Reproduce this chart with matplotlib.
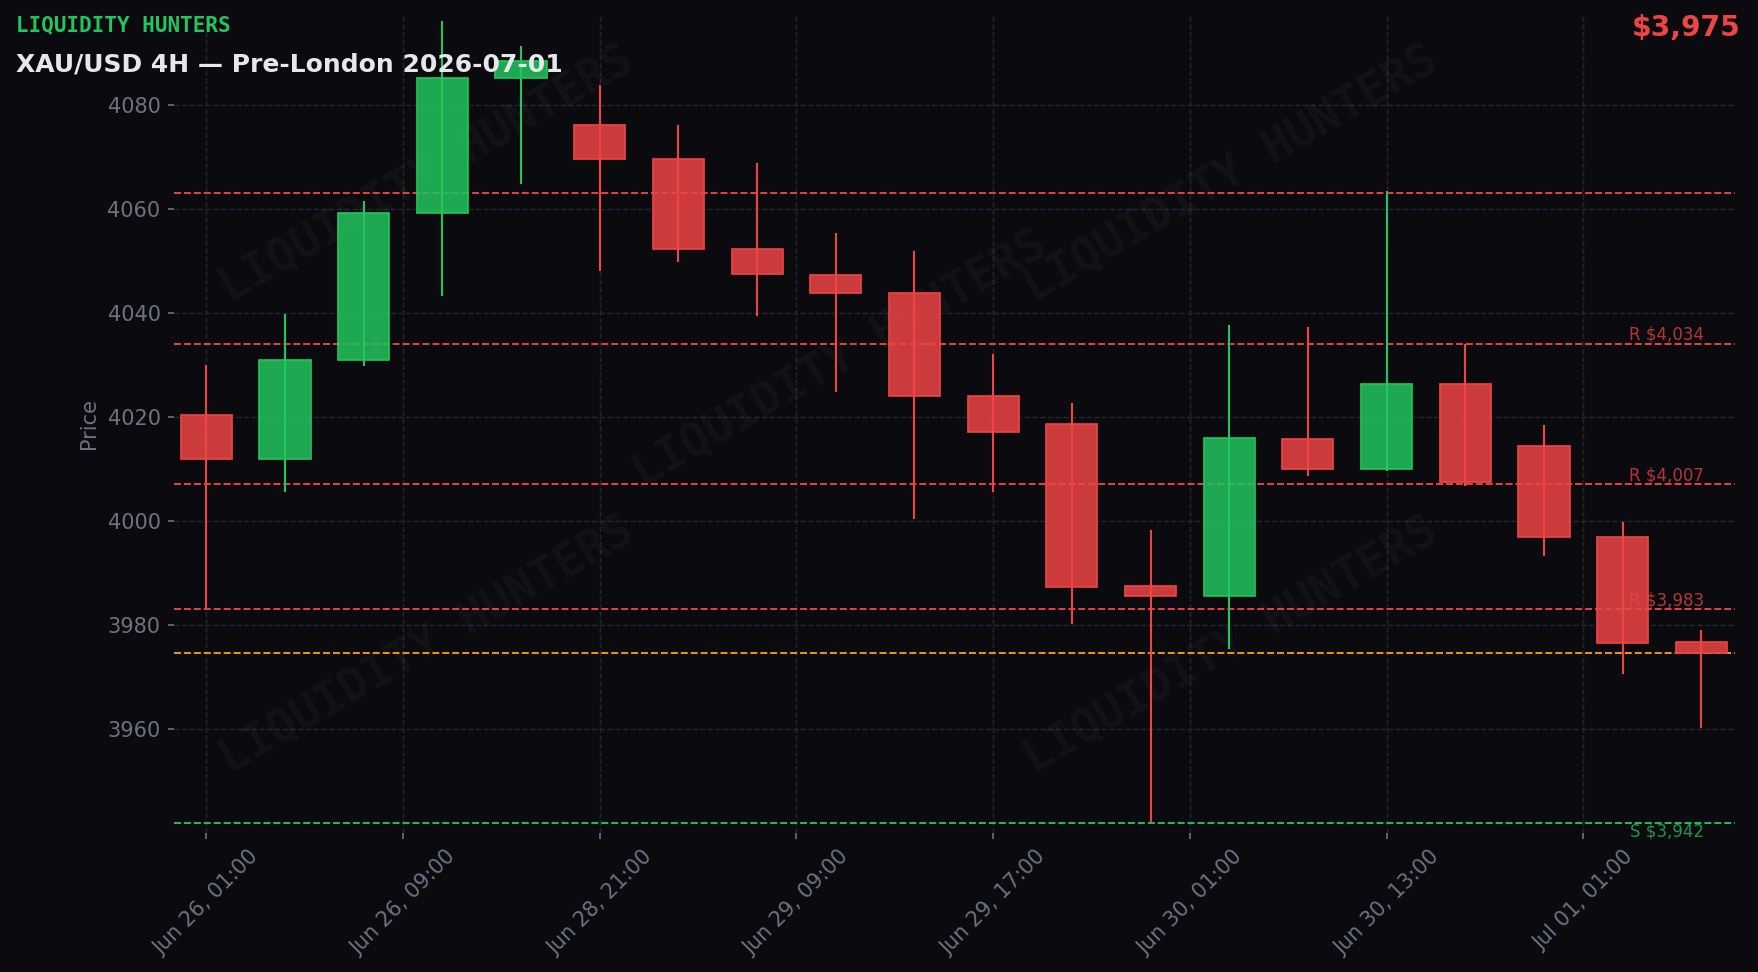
import matplotlib
matplotlib.use("Agg")
import matplotlib.pyplot as plt
from matplotlib.colors import to_rgba
import matplotlib.transforms as mtransforms
import numpy as np

# XAU/USD 4H candles
opens = [4020.4, 4011.8, 4031.0, 4059.1, 4085.2, 4076.0, 4069.6, 4052.3, 4047.2, 4043.7,
         4023.9, 4018.7, 3987.4, 3985.6, 4015.7, 4010.0, 4026.3, 4014.4, 3996.8, 3976.7]
closes = [4011.8, 4031.0, 4059.1, 4085.2, 4088.4, 4069.5, 4052.3, 4047.4, 4043.7, 4023.9,
          4017.0, 3987.3, 3985.6, 4015.9, 4010.0, 4026.3, 4007.5, 3996.8, 3976.6, 3974.6]
highs = [4029.9, 4039.8, 4061.5, 4096.0, 4091.2, 4083.7, 4076.0, 4068.8, 4055.4, 4051.9,
         4032.1, 4022.6, 3998.3, 4037.7, 4037.3, 4063.4, 4034.0, 4018.5, 3999.8, 3979.0]
lows = [3983.1, 4005.6, 4029.7, 4043.2, 4064.8, 4048.1, 4049.7, 4039.4, 4024.7, 4000.4,
        4005.5, 3980.1, 3942.1, 3975.3, 4008.7, 4009.6, 4006.6, 3993.2, 3970.5, 3960.1]

tick_pos = [0, 2.5, 5, 7.5, 10, 12.5, 15, 17.5]
tick_labels = ["Jun 26, 01:00", "Jun 26, 09:00", "Jun 28, 21:00", "Jun 29, 09:00",
               "Jun 29, 17:00", "Jun 30, 01:00", "Jun 30, 13:00", "Jul 01, 01:00"]

resistance = [4063, 4034, 4007, 3983]
resistance_labeled = [False, True, True, True]
support = [3942]
current_price = closes[-1]

BG = "#0b0b0f"
GREEN = "#22c55e"
RED = "#ef4444"
ORANGE = "#f59e0b"
MUTED = "#6b7280"
GRID = "#23252f"

fig = plt.figure(figsize=(11.72, 6.48), dpi=150, facecolor=BG)
ax = fig.add_axes([0.099, 0.143, 0.888, 0.842])
ax.set_facecolor(BG)

x = np.arange(len(opens))
o = np.array(opens)
c = np.array(closes)
up = c >= o
cols = [GREEN if u else RED for u in up]

# wicks then bodies
ax.vlines(x, lows, highs, colors=cols, linewidth=1.0, zorder=3)
ax.bar(x, np.abs(c - o), bottom=np.minimum(o, c), width=0.65,
       color=[to_rgba(cc, 0.85) for cc in cols], edgecolor=cols,
       linewidth=0.8, zorder=4)

# key levels
lbl_tr = mtransforms.blended_transform_factory(ax.transAxes, ax.transData)
for lvl, show in zip(resistance, resistance_labeled):
    ax.axhline(lvl, color=RED, linestyle="--", linewidth=0.9, zorder=2)
    if show:
        ax.text(0.98, lvl, f"R ${lvl:,.0f}", transform=lbl_tr, ha="right", va="bottom",
                fontsize=8, color=RED, alpha=0.75, zorder=5)
for lvl in support:
    ax.axhline(lvl, color=GREEN, linestyle="--", linewidth=0.9, zorder=2)
    ax.text(0.98, lvl, f"S ${lvl:,.0f}", transform=lbl_tr, ha="right", va="top",
            fontsize=8, color=GREEN, alpha=0.75, zorder=5)
ax.axhline(current_price, color=ORANGE, linestyle="--", linewidth=0.9, zorder=2)

ax.set_xlim(-0.41, 19.43)
ax.set_ylim(3940.0, 4097.3)
ax.set_yticks(np.arange(3960, 4081, 20))
ax.set_xticks(tick_pos)
ax.set_xticklabels(tick_labels, rotation=45)
ax.set_ylabel("Price", color=MUTED, fontsize=10)

ax.grid(True, color=GRID, linestyle="--", linewidth=0.7, zorder=0)
ax.set_axisbelow(True)
for s in ax.spines.values():
    s.set_visible(False)
ax.tick_params(colors=MUTED, labelsize=10, length=3)

# watermark
for wx, wy in [(0.243, 0.821), (0.70, 0.821), (0.478, 0.630), (0.243, 0.336), (0.70, 0.336)]:
    ax.text(wx, wy, "LIQUIDITY HUNTERS", transform=fig.transFigure, rotation=30,
            ha="center", va="center", fontsize=22, family="DejaVu Sans Mono",
            weight="bold", color="white", alpha=0.035, zorder=1)

fig.text(0.009, 0.974, "LIQUIDITY HUNTERS", ha="left", va="center", fontsize=10,
         family="DejaVu Sans Mono", weight="bold", color=GREEN)
fig.text(0.009, 0.934, "XAU/USD 4H — Pre-London 2026-07-01", ha="left", va="center",
         fontsize=12, weight="bold", color="#e5e7eb")
fig.text(0.99, 0.971, f"${current_price:,.0f}", ha="right", va="center",
         fontsize=13.5, weight="bold", color=RED)

fig.savefig("out.png", dpi=150, facecolor=BG)
